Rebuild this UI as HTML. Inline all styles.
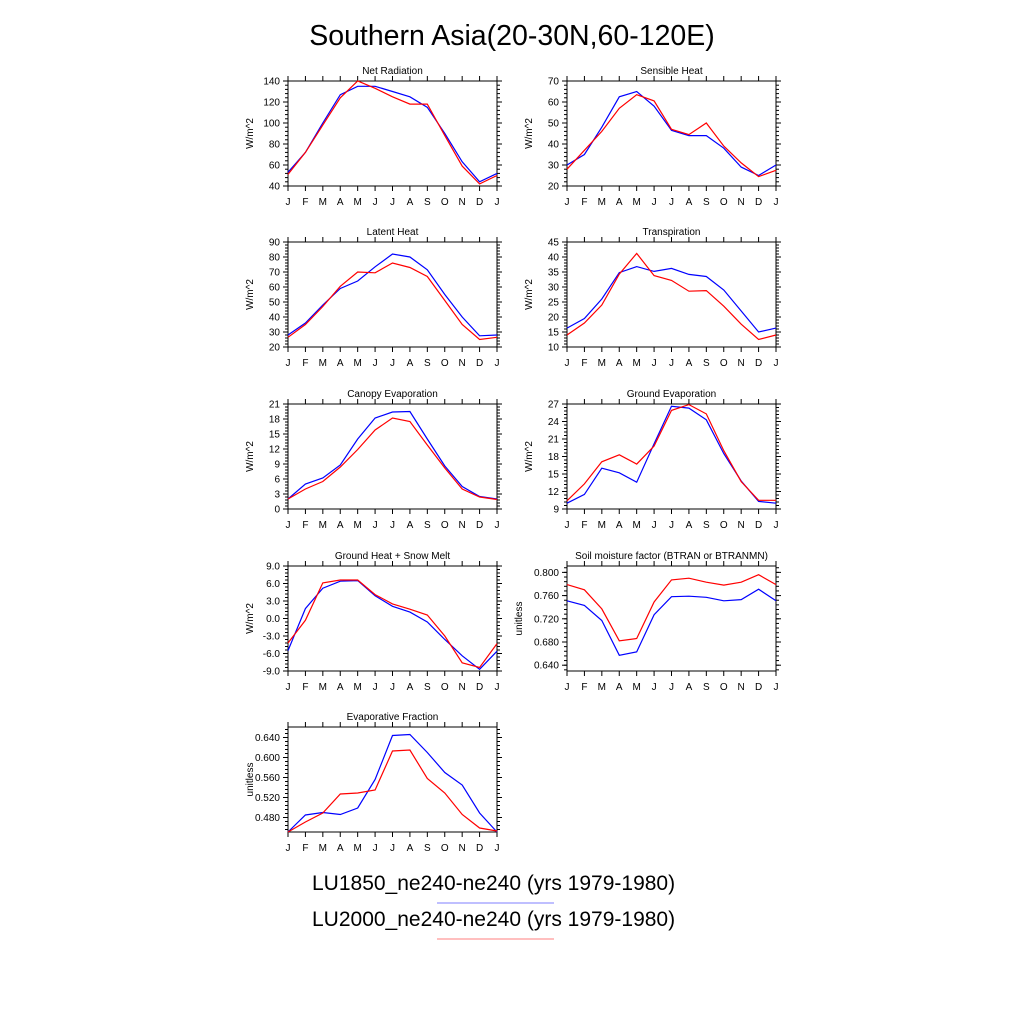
<!DOCTYPE html>
<html><head><meta charset="utf-8"><style>
html,body{margin:0;padding:0;background:#fff;}
svg{display:block;font-family:"Liberation Sans",Arial,sans-serif;}
</style></head><body>
<svg id="chart" width="1024" height="1024" viewBox="0 0 1024 1024">
<text x="512" y="45" text-anchor="middle" font-size="28.5">Southern Asia(20-30N,60-120E)</text>
<g>
<text x="312" y="890" font-size="21">LU1850_ne240-ne240 (yrs 1979-1980)</text>
<line x1="437" y1="903" x2="554" y2="903" stroke="#9999ff" stroke-width="1.2"/>
<text x="312" y="926" font-size="21">LU2000_ne240-ne240 (yrs 1979-1980)</text>
<line x1="437" y1="939" x2="554" y2="939" stroke="#ff9999" stroke-width="1.2"/>
</g>
</svg>
<script>
const months = ["J","F","M","A","M","J","J","A","S","O","N","D","J"];
const panelTitles = ["Net Radiation","Sensible Heat","Latent Heat","Transpiration","Canopy Evaporation","Ground Evaporation","Ground Heat + Snow Melt","Soil moisture factor (BTRAN or BTRANMN)","Evaporative Fraction"];
const yUnits = ["W/m^2","W/m^2","W/m^2","W/m^2","W/m^2","W/m^2","W/m^2","unitless","unitless"];
const yMin = [40,20,20,10,0,9,-9,0.63,0.451];
const yMax = [140,70,90,45,21,27,9,0.811,0.661];
const yTicks = [
 ["40","60","80","100","120","140"],
 ["20","30","40","50","60","70"],
 ["20","30","40","50","60","70","80","90"],
 ["10","15","20","25","30","35","40","45"],
 ["0","3","6","9","12","15","18","21"],
 ["9","12","15","18","21","24","27"],
 ["-9.0","-6.0","-3.0","0.0","3.0","6.0","9.0"],
 ["0.640","0.680","0.720","0.760","0.800"],
 ["0.480","0.520","0.560","0.600","0.640"]
];
const blueNetRad = [53,72,100,127,135,135,130,125,115,90,63,44,52];
const redNetRad = [51,72,98,124,140,133,125,118,118,88,59,42,50];
const blueSensible = [30,35,48,62.5,65,58,46.5,44,44,38,29,25,30];
const redSensible = [28,37,46,57,63.5,60.5,47,44.5,50,39,31,24.5,27.5];
const blueLatent = [28,36,48,59,64,73.5,82,80,71.5,55,40,27.5,28];
const redLatent = [26.5,35,47,60.5,70,69.5,76,73,67,51,35,25,26.5];
const blueTransp = [16.3,19.5,26,34.8,36.8,35.2,36.2,34.2,33.5,29,22,15,16.3];
const redTransp = [14,18,24,34.3,41.2,33.8,32.2,28.6,28.8,23.6,17.6,12.5,14];
const blueCanopy = [2,5,6.2,8.8,14,18.2,19.4,19.5,14,8.6,4.5,2.5,2];
const redCanopy = [2,4,5.5,8.4,11.9,15.8,18.2,17.5,12.8,8.2,4,2.4,1.9];
const blueGround = [10,11.5,16,15.2,13.6,20.2,26.6,26.3,24.3,18.5,13.8,10.3,10];
const redGround = [10.4,13.3,17.1,18.3,16.7,19.8,25.9,26.9,25.3,19,13.7,10.5,10.5];
const blueGHeat = [-5.5,1.7,5.2,6.4,6.5,3.9,2.1,1.1,-0.6,-3.6,-6.4,-8.7,-5.6];
const redGHeat = [-4.2,-0.3,6.1,6.6,6.6,4.1,2.5,1.6,0.6,-3,-7.6,-8.4,-4.3];
const blueSoil = [0.751,0.743,0.717,0.657,0.663,0.727,0.758,0.759,0.757,0.751,0.753,0.771,0.751];
const redSoil = [0.779,0.770,0.737,0.682,0.686,0.749,0.787,0.790,0.783,0.778,0.783,0.796,0.779];
const blueEF = [0.451,0.485,0.490,0.486,0.499,0.556,0.644,0.646,0.610,0.570,0.545,0.489,0.451];
const redEF = [0.451,0.471,0.489,0.527,0.529,0.535,0.613,0.615,0.558,0.529,0.486,0.459,0.453];
const blueSeries = [blueNetRad,blueSensible,blueLatent,blueTransp,blueCanopy,blueGround,blueGHeat,blueSoil,blueEF];
const redSeries = [redNetRad,redSensible,redLatent,redTransp,redCanopy,redGround,redGHeat,redSoil,redEF];
const slugs = ["net-radiation","sensible-heat","latent-heat","transpiration","canopy-evaporation","ground-evaporation","ground-heat","soil-moisture","evaporative-fraction"];

const NS = "http://www.w3.org/2000/svg";
const svg = document.getElementById("chart");
function mk(tag, attrs, parent){const e=document.createElementNS(NS,tag);for(const k in attrs)e.setAttribute(k,attrs[k]);parent.appendChild(e);return e;}

const colX = [288,567], rowY = [81,242,404,566,727], W = 209, H = 105;
for(let p=0;p<9;p++){
  const x0 = colX[p%2], y0 = rowY[Math.floor(p/2)];
  const g = mk("g",{},svg);
  
  
  const xs = i => x0 + i*W/12;
  const ys = v => y0 + H - (v - yMin[p])/(yMax[p]-yMin[p])*H;
  const tg = mk("g",{stroke:"#000","stroke-width":1},g);
  for(let i=0;i<13;i++){
    const x = xs(i);
    mk("line",{x1:x,y1:y0+H,x2:x,y2:y0+H+5},tg);
    mk("line",{x1:x,y1:y0,x2:x,y2:y0-5},tg);
    const t = mk("text",{x:x,y:y0+H+19,"text-anchor":"middle","font-size":10,stroke:"none"},g);
    t.textContent = months[i];
    
    
  }
  const tk = yTicks[p];
  const vals = tk.map(Number);
  const step = vals[1]-vals[0];
  for(let v=vals[0]-step; v<=yMax[p]+1e-9; v+=step/5){
    if(v<yMin[p]-1e-9) continue;
    const y = ys(v);
    mk("line",{x1:x0,y1:y,x2:x0-3,y2:y},tg);
    mk("line",{x1:x0+W,y1:y,x2:x0+W+3,y2:y},tg);
  }
  vals.forEach((v,k)=>{
    const y = ys(v);
    mk("line",{x1:x0,y1:y,x2:x0-5,y2:y},tg);
    mk("line",{x1:x0+W,y1:y,x2:x0+W+5,y2:y},tg);
    const t = mk("text",{x:x0-8,y:y+3.5,"text-anchor":"end","font-size":10},g);
    t.textContent = tk[k];
    
    
  });
  const fr = mk("rect",{x:x0,y:y0,width:W,height:H,fill:"none",stroke:"#000","stroke-width":1},g);
  
  
  const tt = mk("text",{x:x0+W/2,y:y0-7,"text-anchor":"middle","font-size":10},g);
  tt.textContent = panelTitles[p];
  
  
  const off = (p===7) ? 45 : 35;
  const yt = mk("text",{x:0,y:0,"text-anchor":"middle","font-size":10,transform:"translate("+(x0-off)+","+(y0+H/2)+") rotate(-90)"},g);
  yt.textContent = yUnits[p];
  
  
  [[blueSeries[p],"#0000ff","lu1850"],[redSeries[p],"#ff0000","lu2000"]].forEach(([d,c,n])=>{
    const pts = d.map((v,i)=>xs(i).toFixed(1)+","+ys(v).toFixed(1)).join(" ");
    const pl = mk("polyline",{points:pts,fill:"none",stroke:c,"stroke-width":1.2},g);
    
    
  });
}
</script>
</body></html>
